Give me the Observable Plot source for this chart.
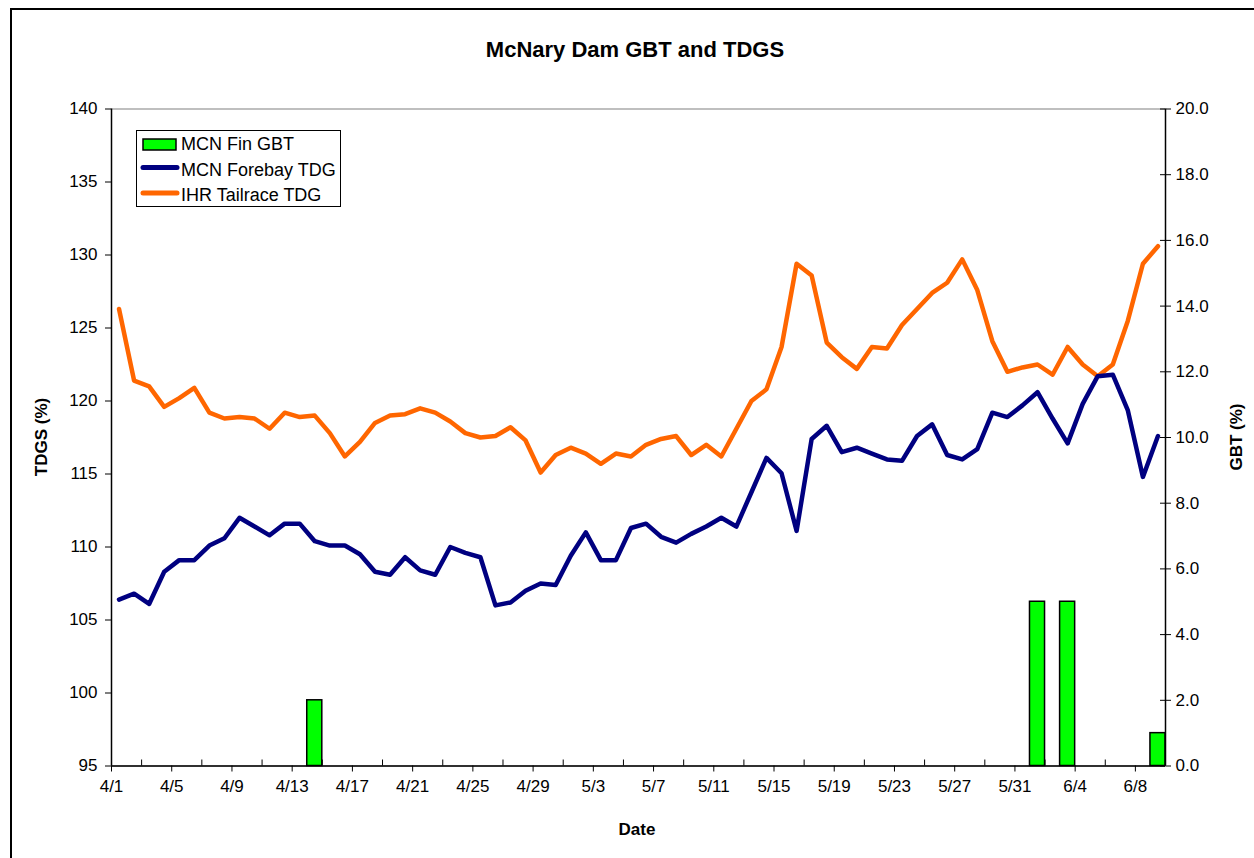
<!DOCTYPE html>
<html><head><meta charset="utf-8">
<script src="https://cdn.jsdelivr.net/npm/d3@7"></script>
<script src="https://cdn.jsdelivr.net/npm/@observablehq/plot@0.6"></script>
<style>
html,body{margin:0;padding:0;background:#fff;overflow:hidden;}
#wrap{position:relative;width:1254px;height:858px;font-family:"Liberation Sans",Arial,sans-serif;color:#000;}
#border{position:absolute;left:10px;top:8px;width:1300px;height:900px;border:2px solid #000;box-sizing:border-box;pointer-events:none;}
#title{position:relative;width:1270px;height:90px;line-height:100px;text-align:center;font-weight:bold;font-size:22px;}
#chart{position:relative;}
.atitle{position:absolute;font-weight:bold;font-size:17px;white-space:nowrap;transform:translate(-50%,-50%);}
.rot{transform:translate(-50%,-50%) rotate(-90deg);}
#legend{position:absolute;left:136px;top:130px;width:205px;height:77px;border:1px solid #000;box-sizing:border-box;background:#fff;}
</style></head>
<body>
<div id="wrap">
  <div id="border"></div>
  <div id="title">McNary Dam GBT and TDGS</div>
  <div id="chart"></div>
  <div class="atitle rot" style="left:42px;top:437px">TDGS (%)</div>
  <div class="atitle rot" style="left:1237px;top:437px">GBT (%)</div>
  <div class="atitle" style="left:637px;top:830px">Date</div>
  <div id="legend"></div>
</div>
<script>
const dates = ["4/1","4/2","4/3","4/4","4/5","4/6","4/7","4/8","4/9","4/10","4/11","4/12","4/13","4/14","4/15","4/16","4/17","4/18","4/19","4/20","4/21","4/22","4/23","4/24","4/25","4/26","4/27","4/28","4/29","4/30",
"5/1","5/2","5/3","5/4","5/5","5/6","5/7","5/8","5/9","5/10","5/11","5/12","5/13","5/14","5/15","5/16","5/17","5/18","5/19","5/20","5/21","5/22","5/23","5/24","5/25","5/26","5/27","5/28","5/29","5/30","5/31",
"6/1","6/2","6/3","6/4","6/5","6/6","6/7","6/8","6/9"];

const forebayTDG = [106.4,106.8,106.1,108.3,109.1,109.1,110.1,110.6,112.0,111.4,
110.8,111.6,111.6,110.4,110.1,110.1,109.5,108.3,108.1,109.3,
108.4,108.1,110.0,109.6,109.3,106.0,106.2,107.0,107.5,107.4,
109.4,111.0,109.1,109.1,111.3,111.6,110.7,110.3,110.9,111.4,
112.0,111.4,113.75,116.1,115.05,111.1,117.4,118.3,116.5,116.8,
116.4,116.0,115.9,117.6,118.4,116.3,116.0,116.7,119.2,118.9,
119.7,120.6,118.8,117.1,119.8,121.7,121.8,119.35,114.8,117.6];

const tailraceTDG = [126.3,121.4,121.0,119.6,120.2,120.9,119.2,118.8,118.9,118.8,
118.1,119.2,118.9,119.0,117.8,116.2,117.2,118.5,119.0,119.1,
119.5,119.2,118.6,117.8,117.5,117.6,118.2,117.3,115.1,116.3,
116.8,116.4,115.7,116.4,116.2,117.0,117.4,117.6,116.3,117.0,
116.2,118.1,120.0,120.8,123.7,129.4,128.6,124.0,123.0,122.2,
123.7,123.6,125.2,126.3,127.4,128.1,129.7,127.6,124.1,122.0,
122.3,122.5,121.8,123.7,122.5,121.7,122.5,125.5,129.4,130.6];

const gbtDates = ["4/14","6/1","6/3","6/9"];
const gbtValues = [2.0, 5.0, 5.0, 1.0];

const leftTicks = [95,100,105,110,115,120,125,130,135,140];
const rightTicks = [0,2,4,6,8,10,12,14,16,18,20];
const seriesNames = ["MCN Fin GBT","MCN Forebay TDG","IHR Tailrace TDG"];
const colors = {gbt:"#00FF00", forebay:"#000080", tailrace:"#FF6600"};

const yMin = 95, yMax = 140, gMax = 20;
const toLeft = g => yMin + g * (yMax - yMin) / gMax;

const rows = dates.map((d, i) => ({i, d, fb: forebayTDG[i], tr: tailraceTDG[i]}));
const gbtRows = gbtDates.map((d, k) => ({i: dates.indexOf(d), g: gbtValues[k]}));
const majorIdx = dates.map((d, i) => i).filter(i => i % 4 === 0);
const minorIdx = dates.map((d, i) => i).filter(i => i % 4 === 2);

const W = 1254, H = 768, mL = 111, mR = 89, mT = 18.5, mB = 92.5;
const pxPerDay = (W - mL - mR) / dates.length;
const pxPerUnit = (H - mT - mB) / (yMax - yMin);

const chart = Plot.plot({
  width: W, height: H,
  marginLeft: mL, marginRight: mR, marginTop: mT, marginBottom: mB,
  x: {type: "linear", domain: [-0.5, dates.length - 0.5]},
  y: {domain: [yMin, yMax]},
  style: {fontFamily: "'Liberation Sans', Arial, sans-serif", fontSize: "17px", color: "#000", background: "transparent", overflow: "visible"},
  marks: [
    Plot.frame({stroke: "#808080", strokeWidth: 1}),
    Plot.rect(gbtRows, {x1: d => d.i - 0.5, x2: d => d.i + 0.5, y1: yMin, y2: d => toLeft(d.g), fill: colors.gbt, stroke: "#000", strokeWidth: 1.5}),
    Plot.line(rows, {x: "i", y: "tr", stroke: colors.tailrace, strokeWidth: 4.5, strokeLinejoin: "round", strokeLinecap: "round"}),
    Plot.line(rows, {x: "i", y: "fb", stroke: colors.forebay, strokeWidth: 4.5, strokeLinejoin: "round", strokeLinecap: "round"}),
    Plot.ruleY([yMin], {stroke: "#000", strokeWidth: 1.5}),
    Plot.ruleX([-0.5, dates.length - 0.5], {stroke: "#000", strokeWidth: 1.5}),
    Plot.axisY({anchor: "left", ticks: leftTicks, tickSize: 6, tickPadding: 8, label: null, tickFormat: d => String(d)}),
    Plot.axisY({anchor: "right", ticks: rightTicks.map(toLeft), tickSize: 5, tickPadding: 5, label: null, tickFormat: v => ((v - yMin) * gMax / (yMax - yMin)).toFixed(1)}),
    Plot.ruleY(rightTicks.map(toLeft), {x1: dates.length - 0.5 - 5 / pxPerDay, x2: dates.length - 0.5, stroke: "#000"}),
    Plot.axisX({ticks: majorIdx.map(i => i - 0.5), tickSize: 6, tickPadding: 8, label: null, tickFormat: v => dates[Math.round(v + 0.5)]}),
    Plot.ruleX(minorIdx.map(i => i - 0.5), {y1: yMin, y2: yMin + 6 / pxPerUnit, stroke: "#000"})
  ]
});
document.getElementById("chart").appendChild(chart);

// legend
const lg = d3.select("#legend").append("svg").attr("width", 203).attr("height", 75)
  .style("font-family", "'Liberation Sans', Arial, sans-serif").style("font-size", "18px");
lg.append("rect").attr("x", 6).attr("y", 8).attr("width", 33).attr("height", 11)
  .attr("fill", colors.gbt).attr("stroke", "#000").attr("stroke-width", 1.5);
lg.append("line").attr("x1", 6).attr("x2", 40).attr("y1", 36.5).attr("y2", 36.5)
  .attr("stroke", colors.forebay).attr("stroke-width", 5).attr("stroke-linecap", "round");
lg.append("line").attr("x1", 6).attr("x2", 40).attr("y1", 62).attr("y2", 62)
  .attr("stroke", colors.tailrace).attr("stroke-width", 5).attr("stroke-linecap", "round");
[13, 38.5, 64].forEach((cy, k) => {
  lg.append("text").attr("x", 44).attr("y", cy).attr("dy", "0.36em").text(seriesNames[k]);
});
</script>
</body></html>
